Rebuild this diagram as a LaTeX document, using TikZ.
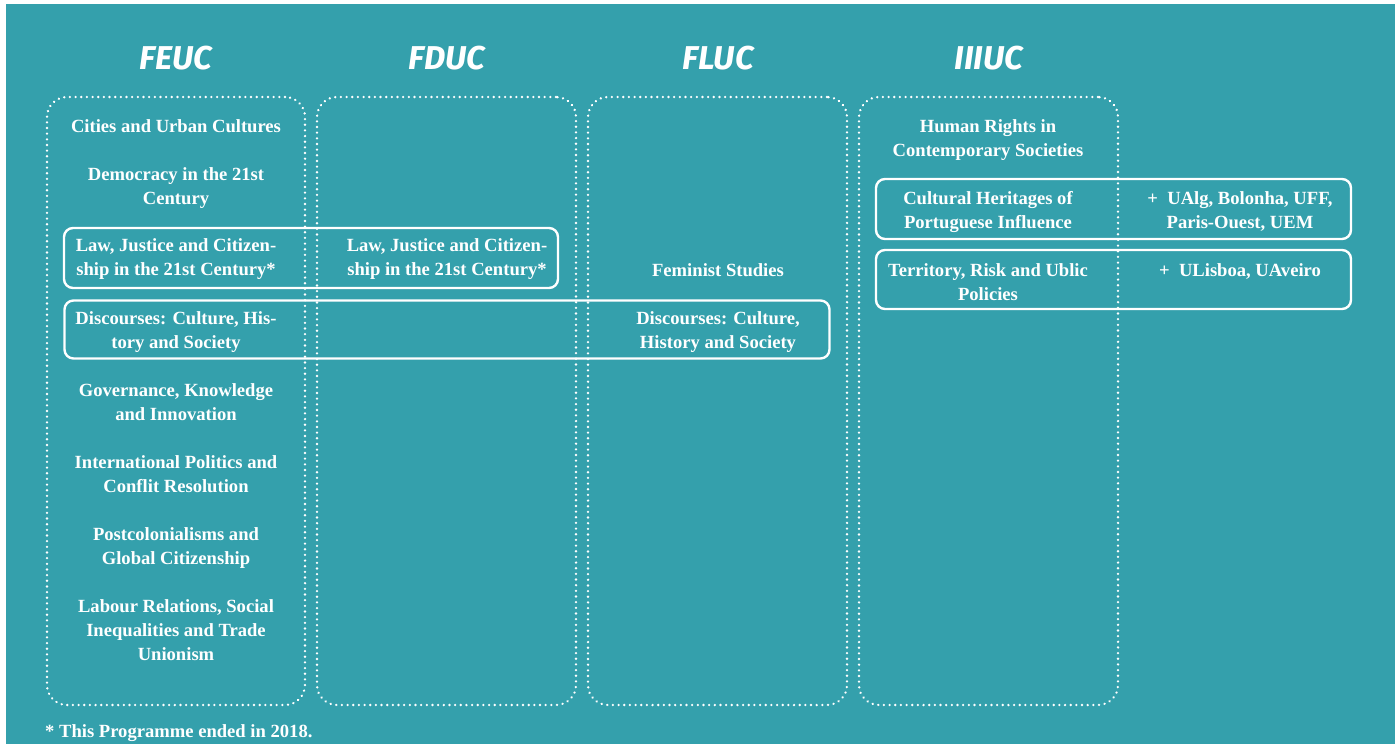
\documentclass[tikz,border=0pt]{standalone}
\usepackage{fontspec}
\setmainfont{Liberation Serif}
\newfontfamily\titlefont{Fira Sans}
\definecolor{teal}{RGB}{52,160,172}
\tikzset{
  colbox/.style={draw=white, line width=2.6pt, dash pattern=on 0.01pt off 5.65pt, line cap=round, rounded corners=20pt, minimum width=#1, minimum height=608pt, inner sep=0pt},
  solidbox/.style={draw=white, line width=2.4pt, rounded corners=9pt, inner sep=0pt},
  title/.style={text=white, font=\titlefont\fontsize{33}{33}\selectfont\bfseries\itshape},
  lbl/.style={text=white, align=center, font=\fontsize{18.6}{24}\selectfont\bfseries, inner sep=0pt}
}
\begin{document}
\begin{tikzpicture}[x=1pt,y=-1pt]
\fill[white] (0,0) rectangle (1395,744);
\fill[teal] (6,4) rectangle (1395,744);
\useasboundingbox (0,0) rectangle (1395,744);
% titles
\node[title] (t1) at (176,58) {FEUC};
\node[title] (t2) at (447,58) {FDUC};
\node[title] (t3) at (718,58) {FLUC};
\node[title] (t4) at (989,58) {IIIUC};
% column boxes
\node[colbox=258pt] (c1) at (176,401) {};
\node[colbox=259pt] (c2) at (446.5,401) {};
\node[colbox=259pt] (c3) at (717.5,401) {};
\node[colbox=259pt] (c4) at (988.5,401) {};
% solid boxes
\node[solidbox, minimum width=494pt, minimum height=60pt] (law) at (311,258) {};
\node[solidbox, minimum width=765pt, minimum height=58pt] (disc) at (447,329.5) {};
\node[solidbox, minimum width=475pt, minimum height=60pt] (cult) at (1113.5,209) {};
\node[solidbox, minimum width=475pt, minimum height=59pt] (terr) at (1113.5,279.5) {};
% FEUC texts (base = baseline of last line)
\node[lbl, anchor=base] (a1) at (176,132) {Cities and Urban Cultures};
\node[lbl, anchor=base] (a2) at (176,204) {Democracy in the 21st\\Century};
\node[lbl, anchor=base] (a3) at (176,275) {Law, Justice and Citizen-\\ship in the 21st Century*};
\node[lbl, anchor=base] (a4) at (176,348) {Discourses: Culture, His-\\tory and Society};
\node[lbl, anchor=base] (a5) at (176,420) {Governance, Knowledge\\and Innovation};
\node[lbl, anchor=base] (a6) at (176,492) {International Politics and\\Conflit Resolution};
\node[lbl, anchor=base] (a7) at (176,564) {Postcolonialisms and\\Global Citizenship};
\node[lbl, anchor=base] (a8) at (176,660) {Labour Relations, Social\\Inequalities and Trade\\Unionism};
% FDUC
\node[lbl, anchor=base] (b1) at (447,275) {Law, Justice and Citizen-\\ship in the 21st Century*};
% FLUC
\node[lbl, anchor=base] (f1) at (718,276) {Feminist Studies};
\node[lbl, anchor=base] (f2) at (718,348) {Discourses: Culture,\\History and Society};
% IIIUC
\node[lbl, anchor=base] (i1) at (988,156) {Human Rights in\\Contemporary Societies};
\node[lbl, anchor=base] (i2) at (988,228) {Cultural Heritages of\\Portuguese Influence};
\node[lbl, anchor=base] (i3) at (988,300) {Territory, Risk and Ublic\\Policies};
\node[lbl, anchor=base] (p1) at (1240,228) {+\ \ UAlg, Bolonha, UFF,\\Paris-Ouest, UEM};
\node[lbl, anchor=base] (p2) at (1240,276) {+\ \ ULisboa, UAveiro};
% footnote
\node[lbl, anchor=base west] (fn) at (45,737) {* This Programme ended in 2018.};
\end{tikzpicture}
\end{document}
